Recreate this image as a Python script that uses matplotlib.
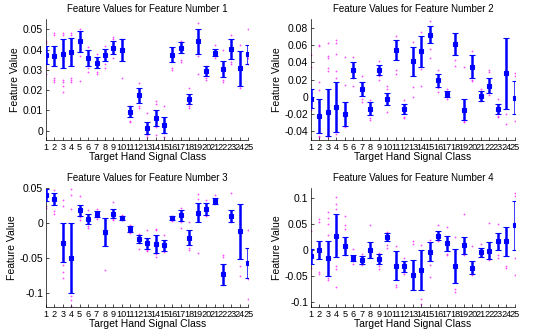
import numpy as np
import matplotlib
matplotlib.use("Agg")
import matplotlib.pyplot as plt
from matplotlib.ticker import FuncFormatter

plt.rcParams['font.family'] = ['Liberation Sans', 'DejaVu Sans']
plt.rcParams['axes.unicode_minus'] = False

classes = list(range(1, 26))

# feature 1
mean1 = [0.0375, 0.037, 0.038, 0.0388, 0.044, 0.0358, 0.0335, 0.0372, 0.041, 0.0397,
         0.0095, 0.0175, 0.0013, 0.0063, 0.003, 0.0374, 0.041, 0.0157, 0.044, 0.0295,
         0.0385, 0.0303, 0.0404, 0.0307, 0.0376]
err1 = [0.0045, 0.005, 0.0073, 0.0068, 0.005, 0.0038, 0.0028, 0.003, 0.0033, 0.0055,
        0.0025, 0.0038, 0.0028, 0.004, 0.004, 0.0037, 0.0027, 0.0023, 0.0063, 0.0025,
        0.0018, 0.004, 0.0048, 0.0088, 0.0045]
raw1 = [[0.044, 0.043, 0.028, 0.031, 0.035], [0.048, 0.047, 0.025, 0.024, 0.026],
        [0.048, 0.047, 0.019, 0.022, 0.025, 0.024], [0.048, 0.047, 0.024, 0.025, 0.026],
        [0.050, 0.0245, 0.037], [0.0415, 0.029, 0.031], [0.038, 0.028, 0.029],
        [0.042, 0.031, 0.033], [0.046, 0.036, 0.045], [0.045, 0.026, 0.035],
        [0.012, 0.0045, 0.005], [0.0235, 0.011, 0.012], [0.009, -0.002, -0.003],
        [0.0145, 0.013, -0.002, 0.002], [0.012, -0.003, -0.001], [0.041, 0.030, 0.031],
        [0.044, 0.034, 0.035], [0.021, 0.011, 0.012], [0.053, 0.028, 0.037],
        [0.032, 0.025, 0.026], [0.0425, 0.037, 0.036], [0.040, 0.024, 0.025],
        [0.047, 0.033, 0.034], [0.0425, 0.021, 0.022], [0.050, 0.033, 0.036]]

# feature 2
mean2 = [-0.002, -0.022, -0.018, -0.012, -0.020, 0.031, 0.009, -0.014, 0.031, -0.003,
         0.054, -0.014, 0.041, 0.053, 0.072, 0.019, 0.003, 0.061, -0.015, 0.035,
         0.001, 0.013, -0.014, 0.027, -0.001]
err2 = [0.011, 0.020, 0.0275, 0.029, 0.014, 0.009, 0.008, 0.0075, 0.006, 0.007,
        0.0115, 0.006, 0.017, 0.018, 0.010, 0.0075, 0.0035, 0.0125, 0.012, 0.013,
        0.006, 0.0085, 0.006, 0.041, 0.019]
raw2 = [[0.048, 0.034, -0.015], [0.060, 0.059, 0.017, 0.008, -0.047, -0.045],
        [0.062, 0.047, 0.045, 0.030, 0.033, -0.047], [0.066, 0.062, 0.050, 0.030, 0.022, -0.043],
        [0.046, 0.014, -0.035], [0.046, 0.012, 0.022], [0.024, -0.006, -0.002],
        [-0.027, -0.025, -0.004], [0.041, 0.020, 0.024], [0.013, 0.009, -0.018],
        [0.070, 0.031, 0.026], [-0.004, -0.025, -0.023], [0.064, 0.011, 0.000],
        [0.075, 0.012, 0.032], [0.088, 0.055, 0.045], [0.031, 0.005, 0.010],
        [0.009, -0.003, 0.000], [0.043, 0.036, 0.050], [0.035, -0.029, -0.028],
        [0.053, 0.018, 0.020], [0.009, -0.005, -0.003], [0.031, 0.029, 0.002],
        [-0.002, -0.024, -0.022], [0.067, -0.031, -0.020], [0.027, 0.024, -0.028]]

# feature 3
mean3 = [0.040, 0.034, -0.028, -0.050, 0.018, 0.006, 0.0125, -0.013, 0.0135, 0.0075,
         -0.009, -0.023, -0.029, -0.030, -0.032, 0.0075, 0.011, -0.021, 0.015, 0.020,
         0.032, -0.073, 0.0095, -0.012, -0.057]
err3 = [0.0085, 0.0085, 0.028, 0.050, 0.0085, 0.0075, 0.0045, 0.0195, 0.007, 0.003,
        0.0045, 0.0055, 0.0075, 0.0135, 0.0075, 0.0025, 0.0075, 0.0105, 0.014, 0.0085,
        0.0045, 0.015, 0.0085, 0.039, 0.022]
raw3 = [[0.022, 0.025, 0.047], [0.047, 0.013, 0.017],
        [0.033, 0.025, -0.050, -0.060, -0.070, -0.079], [0.048, 0.040, 0.020, -0.105, -0.110, -0.118],
        [0.038, 0.004, 0.008], [0.018, -0.007, -0.004], [0.020, 0.006, 0.008],
        [-0.067, 0.005, -0.030], [0.030, 0.006, 0.005], [0.011, 0.004, 0.005],
        [-0.003, -0.014, -0.013], [-0.015, -0.037, -0.029], [-0.010, -0.040, -0.038],
        [-0.008, -0.010, -0.048, -0.045], [-0.017, -0.042, -0.039], [0.010, 0.004, 0.003],
        [0.022, -0.007, 0.002], [0.002, -0.038, -0.036], [0.041, -0.043, 0.035],
        [0.033, 0.010, 0.012], [0.040, 0.027, 0.028], [-0.046, -0.048, -0.089],
        [0.043, 0.002, 0.004], [-0.062, -0.076, 0.020], [-0.010, -0.108, -0.080]]

# feature 4
mean4 = [-0.012, 0.000, -0.016, 0.028, 0.008, -0.016, -0.019, 0.000, -0.018, 0.025,
         -0.030, -0.031, -0.048, -0.039, -0.003, 0.028, 0.013, -0.030, 0.009, -0.034,
         -0.004, -0.001, 0.017, 0.017, 0.048]
err4 = [0.015, 0.017, 0.034, 0.041, 0.017, 0.006, 0.0075, 0.015, 0.0095, 0.0075,
        0.028, 0.0105, 0.029, 0.039, 0.018, 0.009, 0.014, 0.033, 0.016, 0.013,
        0.009, 0.017, 0.016, 0.028, 0.047]
raw4 = [[0.037, -0.035], [0.060, 0.055, -0.043, -0.047],
        [0.073, 0.062, 0.050, 0.030, -0.054, -0.057], [0.102, 0.090, 0.080, -0.030, -0.037, -0.072],
        [0.066, 0.048, 0.040, -0.010], [0.002, -0.026, -0.022], [-0.008, -0.028],
        [0.048, -0.012], [-0.005, -0.037, -0.030], [0.035, 0.004, 0.010],
        [0.008, -0.068, -0.072], [-0.015, -0.042, -0.047], [0.018, 0.012, -0.075],
        [0.010, -0.095, -0.104], [0.020, -0.052, -0.028], [0.048, 0.019, 0.017],
        [0.044, -0.008, -0.010], [0.025, -0.075, -0.082], [0.070, -0.010, -0.005],
        [0.007, -0.045, -0.048], [0.012, -0.012, -0.010], [0.052, -0.019, -0.015],
        [0.050, -0.016, -0.010], [0.038, -0.035, -0.031], [0.110, 0.105, -0.048, -0.015]]

features = [(mean1, err1, raw1, (-0.0045, 0.055), [0, 0.01, 0.02, 0.03, 0.04, 0.05]),
            (mean2, err2, raw2, (-0.05, 0.09), [-0.04, -0.02, 0, 0.02, 0.04, 0.06, 0.08]),
            (mean3, err3, raw3, (-0.12, 0.05), [-0.1, -0.05, 0, 0.05]),
            (mean4, err4, raw4, (-0.11, 0.12), [-0.1, -0.05, 0, 0.05, 0.1])]

# axes boxes in figure fractions [left, bottom, width, height]
boxes = [[0.0855, 0.576, 0.376, 0.366], [0.578, 0.576, 0.379, 0.366],
         [0.0855, 0.070, 0.376, 0.360], [0.578, 0.070, 0.379, 0.360]]

fig = plt.figure(figsize=(5.38, 3.30), dpi=100)

for i, (m, e, raw, ylim, yt) in enumerate(features):
    ax = fig.add_axes(boxes[i])
    for c, pts in zip(classes, raw):
        ax.plot([c] * len(pts), pts, 'o', color='#ff00ff', markersize=1.3,
                markeredgewidth=0, alpha=0.7, zorder=1)
    ax.errorbar(classes, m, yerr=e, fmt='s', color='#0000ff', ecolor='#0000ff',
                elinewidth=1.8, capsize=2.1, capthick=1.4, markersize=2.4,
                markeredgewidth=0.8, markeredgecolor='#0000ff', zorder=3)
    ax.set_xlim(1, 25)
    ax.set_ylim(*ylim)
    ax.set_xticks(classes)
    ax.set_yticks(yt)
    ax.yaxis.set_major_formatter(FuncFormatter(lambda v, p: '%g' % round(v, 4)))
    ax.tick_params(direction='in', length=2, labelsize=7.5, width=0.5, pad=2)
    ax.tick_params(axis='x', labelsize=6.6, pad=2)
    for s in ['top', 'right']:
        ax.spines[s].set_visible(False)
    for s in ['left', 'bottom']:
        ax.spines[s].set_linewidth(0.5)
    ax.set_title('Feature Values for Feature Number %d' % (i + 1), fontsize=7, pad=5)
    ax.set_ylabel('Feature Value', fontsize=7.5, labelpad=2)
    ax.set_xlabel('Target Hand Signal Class', fontsize=7.5, labelpad=0)

fig.savefig('out.png', dpi=100)
